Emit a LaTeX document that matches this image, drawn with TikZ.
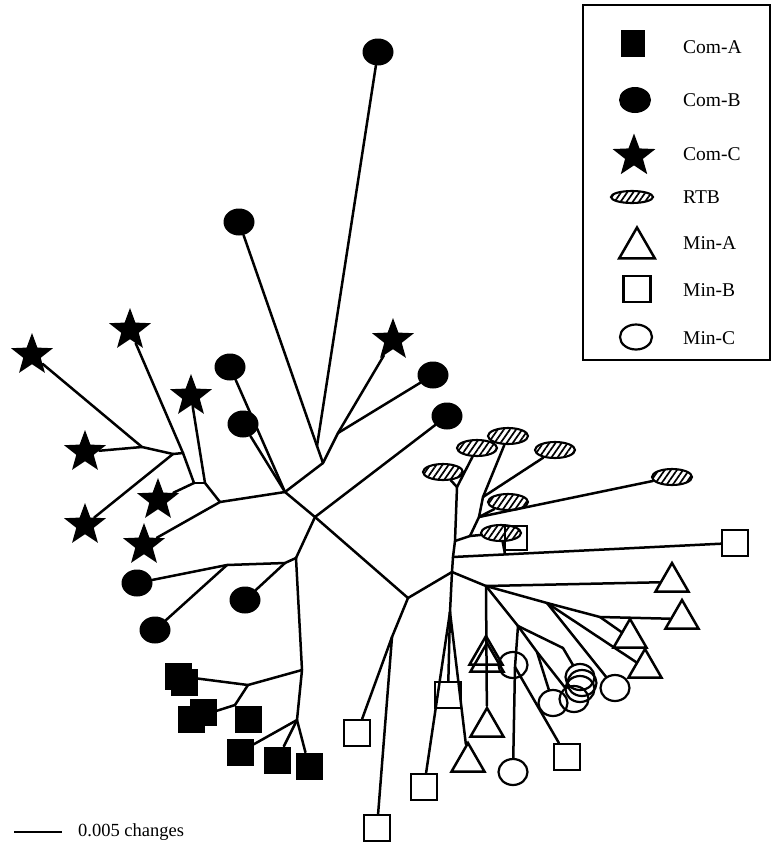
\documentclass[tikz,border=0pt]{standalone}
\usepackage{fontspec}
\setmainfont{Liberation Serif}
\usetikzlibrary{shapes.geometric,patterns.meta}
\begin{document}
\begin{tikzpicture}[x=1pt,y=-1pt,
  edge/.style={line width=2.5pt,line cap=round},
  comA/.style={rectangle,fill=black,minimum size=27pt,inner sep=0pt},
  comB/.style={ellipse,fill=black,minimum width=31pt,minimum height=27pt,inner sep=0pt},
  comC/.style={star,star points=5,star point ratio=2.4,fill=black,minimum size=44pt,inner sep=0pt},
  rtb/.style={ellipse,draw,line width=2.1pt,minimum width=40pt,minimum height=16pt,inner sep=0pt,pattern={Lines[angle=55,distance=5pt,line width=1.7pt]}},
  minA/.style={regular polygon,regular polygon sides=3,draw,line width=2.5pt,minimum size=38pt,inner sep=0pt},
  minB/.style={rectangle,draw,line width=2.3pt,minimum size=26pt,inner sep=0pt},
  minC/.style={ellipse,draw,line width=2.2pt,minimum width=29pt,minimum height=26pt,inner sep=0pt},
  lab/.style={font=\fontsize{19.5}{22}\selectfont,anchor=west,inner sep=0pt}
]
\fill[white] (0,0) rectangle (775,844);
\useasboundingbox (0,0) rectangle (775,844);

% ---------- internal nodes ----------
\coordinate (n1) at (142,447);
\coordinate (n2) at (173,454);
\coordinate (n3) at (183,453);
\coordinate (n4) at (194,483);
\coordinate (n5) at (205,483);
\coordinate (n6) at (220,502);
\coordinate (F) at (285,492);
\coordinate (H1) at (317,446);
\coordinate (H) at (323,463);
\coordinate (J) at (338,433);
\coordinate (I) at (315,517);
\coordinate (K) at (296,558);
\coordinate (K2) at (285,563);
\coordinate (M) at (227,565);
\coordinate (X1) at (302,670);
\coordinate (X2) at (297,720);
\coordinate (N) at (248,685);
\coordinate (N2) at (235,705);
\coordinate (L) at (408,598);
\coordinate (Q) at (392,637);
\coordinate (P) at (452,572);
\coordinate (T) at (450,612);
\coordinate (U0) at (453,557);
\coordinate (U1) at (455,541);
\coordinate (U1b) at (470,536);
\coordinate (U2) at (457,487);
\coordinate (U3) at (479,517);
\coordinate (U4) at (483,497);
\coordinate (V) at (505,554);
\coordinate (R) at (486,586);
\coordinate (R1) at (547,603);
\coordinate (R2) at (600,617);
\coordinate (S) at (518,626);
\coordinate (S4) at (537,652);
\coordinate (S5) at (563,648);
\coordinate (Wc) at (515,667);

% ---------- leaves ----------
% Com-B
\node[comB] (b1) at (378,52) {};
\node[comB] (b2) at (239,222) {};
\node[comB] (b3) at (230,367) {};
\node[comB] (b4) at (243,424) {};
\node[comB] (b5) at (433,375) {};
\node[comB] (b6) at (447,416) {};
\node[comB] (b7) at (137,583) {};
\node[comB] (b8) at (245,600) {};
\node[comB] (b9) at (155,630) {};
% Com-C
\node[comC] (s1) at (32,355) {};
\node[comC] (s2) at (130,330) {};
\node[comC] (s3) at (191,396) {};
\node[comC] (s4) at (85,452) {};
\node[comC] (s5) at (158,500) {};
\node[comC] (s6) at (85,525) {};
\node[comC] (s7) at (144,545) {};
\node[comC] (s8) at (393,340) {};
% Com-A
\node[comA] (a1b) at (184,682) {};
\node[comA] (a1) at (178,676) {};
\node[comA] (a2b) at (203,712) {};
\node[comA] (a2) at (191,719) {};
\node[comA] (a3) at (248,719) {};
\node[comA] (a4) at (240,752) {};
\node[comA] (a5) at (277,760) {};
\node[comA] (a6) at (309,766) {};
% RTB
\node[rtb] (e1) at (443,472) {};
\node[rtb] (e2) at (477,448) {};
\node[rtb] (e3) at (508,436) {};
\node[rtb] (e4) at (555,450) {};
\node[rtb] (e5) at (508,502) {};
\node[rtb] (e6) at (501,533) {};
\node[rtb] (e7) at (672,477) {};
% Min-B
\node[minB,minimum width=22pt,minimum height=24pt] (m6) at (516,538) {};
\node[minB] (mB) at (735,543) {};
\node[minB] (m1) at (357,733) {};
\node[minB] (m2) at (377,828) {};
\node[minB] (m3) at (448,695) {};
\node[minB] (m4) at (424,787) {};
\node[minB] (m5) at (567,757) {};
% Min-A (circumcentre shifted 5 below box centre)
\node[minA] (tA) at (672,582) {};
\node[minA] (t6) at (682,619) {};
\node[minA] (t5) at (630,638) {};
\node[minA] (t4) at (645,668) {};
\node[minA] (t2b) at (487,662) {};
\node[minA] (t2) at (486,655) {};
\node[minA] (t3) at (487,727) {};
\node[minA] (t1) at (468,762) {};
% Min-C
\node[minC] (c1) at (513,665) {};
\node[minC] (c2) at (513,772) {};
\node[minC] (c3) at (553,703) {};
\node[minC] (c4) at (574,699) {};
\node[minC] (c5c) at (580,689) {};
\node[minC] (c5b) at (582,683) {};
\node[minC] (c5a) at (580,677) {};
\node[minC] (c6) at (615,688) {};

% ---------- edges ----------
\draw[edge] (n1) -- (s1);
\draw[edge] (n1) -- (s4);
\draw[edge] (n2) -- (n1);
\draw[edge] (n2) -- (s6);
\draw[edge] (n3) -- (n2);
\draw[edge] (n3) -- (s2);
\draw[edge] (n3) -- (n4);
\draw[edge] (n4) -- (s5);
\draw[edge] (n4) -- (n5);
\draw[edge] (n5) -- (s3);
\draw[edge] (n5) -- (n6);
\draw[edge] (n6) -- (s7);
\draw[edge] (n6) -- (F);
\draw[edge] (F) -- (b3);
\draw[edge] (F) -- (b4);
\draw[edge] (F) -- (H);
\draw[edge] (F) -- (I);
\draw[edge] (H) -- (H1);
\draw[edge] (H1) -- (b1);
\draw[edge] (H1) -- (b2);
\draw[edge] (H) -- (J);
\draw[edge] (J) -- (s8);
\draw[edge] (J) -- (b5);
\draw[edge] (I) -- (b6);
\draw[edge] (I) -- (K);
\draw[edge] (I) -- (L);
\draw[edge] (K) -- (K2);
\draw[edge] (K2) -- (b8);
\draw[edge] (K2) -- (M);
\draw[edge] (M) -- (b7);
\draw[edge] (M) -- (b9);
\draw[edge] (K) -- (X1);
\draw[edge] (X1) -- (N);
\draw[edge] (N) -- (a1);
\draw[edge] (N) -- (N2);
\draw[edge] (N2) -- (a2);
\draw[edge] (N2) -- (a3);
\draw[edge] (X1) -- (X2);
\draw[edge] (X2) -- (a4);
\draw[edge] (X2) -- (a5);
\draw[edge] (X2) -- (a6);
\draw[edge] (L) -- (Q);
\draw[edge] (Q) -- (m1);
\draw[edge] (Q) -- (m2);
\draw[edge] (L) -- (P);
\draw[edge] (P) -- (T);
\draw[edge] (T) -- (m3);
\draw[edge] (T) -- (m4);
\draw[edge] (T) -- (t1);
\draw[edge] (P) -- (U0);
\draw[edge] (U0) -- (mB);
\draw[edge] (V) -- (e6);
\draw[edge] (U0) -- (U1);
\draw[edge] (U1) -- (U2);
\draw[edge] (U2) -- (e1);
\draw[edge] (U2) -- (e2);
\draw[edge] (U1) -- (U1b);
\draw[edge] (U1b) -- (e6);
\draw[edge] (U1b) -- (U3);
\draw[edge] (U3) -- (e5);
\draw[edge] (U3) -- (e7);
\draw[edge] (U3) -- (U4);
\draw[edge] (U4) -- (e3);
\draw[edge] (U4) -- (e4);
\draw[edge] (P) -- (R);
\draw[edge] (R) -- (tA);
\draw[edge] (R) -- (t2);
\draw[edge] (R) -- (t3);
\draw[edge] (R) -- (R1);
\draw[edge] (R1) -- (R2);
\draw[edge] (R2) -- (t5);
\draw[edge] (R2) -- (t6);
\draw[edge] (R1) -- (t4);
\draw[edge] (R1) -- (c6);
\draw[edge] (R) -- (S);
\draw[edge] (S) -- (Wc);
\draw[edge] (Wc) -- (c2);
\draw[edge] (Wc) -- (m5);
\draw[edge] (S) -- (S4);
\draw[edge] (S4) -- (c3);
\draw[edge] (S4) -- (c4);
\draw[edge] (S) -- (S5);
\draw[edge] (S5) -- (c5a);

% ---------- legend ----------
\node[draw,line width=1.8pt,minimum width=187pt,minimum height=355pt,inner sep=0pt] (box) at (676.5,182.5) {};
\node[comA,minimum width=24pt,minimum height=27pt] (lgA) at (633,43) {};
\node[comB,minimum width=32pt,minimum height=26pt] (lgB) at (635,100) {};
\node[comC,minimum size=45pt] (lgC) at (634,156) {};
\node[rtb,minimum width=42pt,minimum height=12pt] (lgR) at (632,197) {};
\node[minA,minimum size=41pt] (lgMA) at (637,248) {};
\node[minB,minimum width=27pt,minimum height=26pt] (lgMB) at (637,289) {};
\node[minC,minimum width=32pt,minimum height=25pt] (lgMC) at (636,337) {};
\node[lab] (tA1) at (683,47) {Com-A};
\node[lab] (tB1) at (683,100) {Com-B};
\node[lab] (tC1) at (683,154) {Com-C};
\node[lab] (tR1) at (683,197) {RTB};
\node[lab] (tMA) at (683,243) {Min-A};
\node[lab] (tMB) at (683,290) {Min-B};
\node[lab] (tMC) at (683,338) {Min-C};

% ---------- scale bar ----------
\coordinate (sbL) at (14,832);
\coordinate (sbR) at (62,832);
\draw[line width=1.8pt] (sbL) -- (sbR);
\node[anchor=west,inner sep=0pt,font=\fontsize{18.5}{22}\selectfont] (sbT) at (78,832) {0.005 changes};
\end{tikzpicture}
\end{document}
